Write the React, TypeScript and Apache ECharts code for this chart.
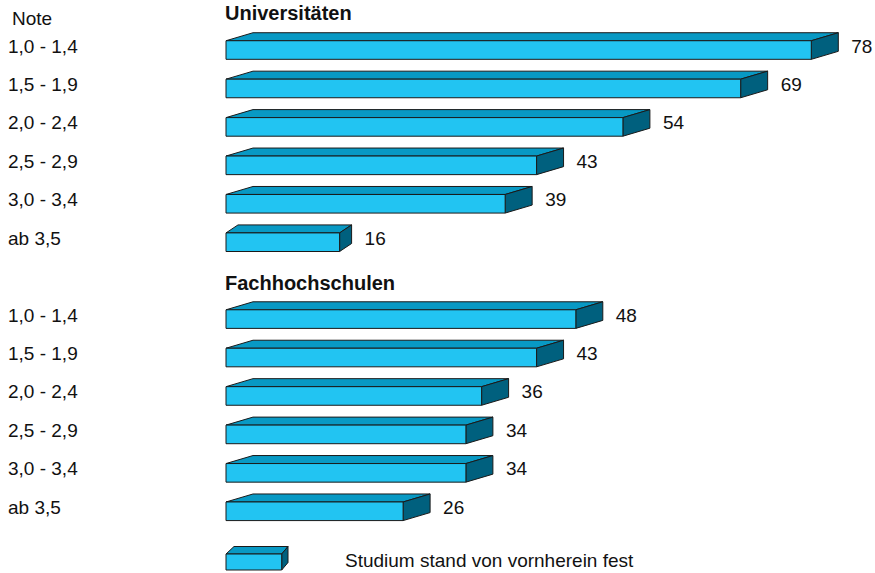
import React, { useEffect, useRef } from "react";
import * as echarts from "echarts";

const categories = ["1,0 - 1,4", "1,5 - 1,9", "2,0 - 2,4", "2,5 - 2,9", "3,0 - 3,4", "ab 3,5", "", "1,0 - 1,4", "1,5 - 1,9", "2,0 - 2,4", "2,5 - 2,9", "3,0 - 3,4", "ab 3,5"];
const universitaeten = [78, 69, 54, 43, 39, 16];
const fachhochschulen = [48, 43, 36, 34, 34, 26];
const headingUni = "Universitäten";
const headingFH = "Fachhochschulen";
const axisTitle = "Note";
const legendName = "Studium stand von vornherein fest";

const FRONT = "#22C4F2";
const TOP = "#0899C4";
const SIDE = "#00607E";
const EDGE = "#1a1a1a";
const FONT = "'Liberation Sans', Arial, sans-serif";

export default function App() {
  const ref = useRef<HTMLDivElement>(null);
  useEffect(() => {
    if (!ref.current) return;
    const chart = echarts.init(ref.current, null, { renderer: "svg" });
    const data: number[][] = [];
    universitaeten.forEach((v, i) => data.push([i, v]));
    fachhochschulen.forEach((v, i) => data.push([i + 7, v]));

    const dy = 8;
    const box = (x0: number, xe: number, ft: number, fb: number, d: number) => {
      const xf = xe - d;
      const ls = { stroke: EDGE, lineWidth: 1 };
      return [
        { type: "polygon", shape: { points: [[x0, ft], [x0 + d, ft - dy], [xe, ft - dy], [xf, ft]] }, style: { fill: TOP, ...ls } },
        { type: "polygon", shape: { points: [[xf, ft], [xe, ft - dy], [xe, fb - dy], [xf, fb]] }, style: { fill: SIDE, ...ls } },
        { type: "polygon", shape: { points: [[x0, ft], [xf, ft], [xf, fb], [x0, fb]] }, style: { fill: FRONT, ...ls } },
      ];
    };

    const renderItem = (params: any, api: any) => {
      const idx = api.value(0);
      const val = api.value(1);
      const s = api.coord([0, idx]);
      const e = api.coord([val, idx]);
      const c = s[1];
      const ft = c - 5.3;
      const fb = c + 13.3;
      const len = e[0] - s[0];
      const d = len < 150 ? 12 : 27;
      return {
        type: "group",
        children: [
          ...box(s[0], e[0], ft, fb, d),
          {
            type: "text",
            x: e[0] + 13,
            y: c,
            style: { text: String(val), fontSize: 19, fontFamily: FONT, fill: "#111", verticalAlign: "middle", align: "left" },
          },
        ],
      };
    };

    const textStyle = (t: string, x: number, y: number, bold = false) => ({
      type: "text",
      left: x,
      top: y,
      style: { text: t, fontSize: bold ? 20 : 19, fontWeight: bold ? "bold" : "normal", fontFamily: FONT, fill: "#111" },
    });

    chart.setOption({
      animation: false,
      backgroundColor: "#ffffff",
      grid: { left: 226, right: 21, top: 26.8, bottom: 46.5 },
      xAxis: { type: "value", min: 0, max: 80, show: false },
      yAxis: {
        type: "category",
        data: categories,
        inverse: true,
        axisLine: { show: false },
        axisTick: { show: false },
        splitLine: { show: false },
        axisLabel: { align: "left", margin: 218, fontSize: 19, fontFamily: FONT, color: "#111" },
      },
      series: [{ type: "custom", renderItem, data, encode: { x: 1, y: 0 } }],
      graphic: [
        textStyle(axisTitle, 12, 9),
        textStyle(headingUni, 225, 3, true),
        textStyle(headingFH, 225, 273, true),
        {
          type: "group",
          children: [
            { type: "polygon", shape: { points: [[226, 554], [234, 546.5], [288, 546.5], [281.7, 554]] }, style: { fill: TOP, stroke: EDGE, lineWidth: 1 } },
            { type: "polygon", shape: { points: [[281.7, 554], [288, 546.5], [288, 562.5], [281.7, 570]] }, style: { fill: SIDE, stroke: EDGE, lineWidth: 1 } },
            { type: "polygon", shape: { points: [[226, 554], [281.7, 554], [281.7, 570], [226, 570]] }, style: { fill: FRONT, stroke: EDGE, lineWidth: 1 } },
          ],
        },
        textStyle(legendName, 345, 551),
      ],
    });
    return () => chart.dispose();
  }, []);
  return <div ref={ref} style={{ position: "fixed", left: 0, top: 0, width: 875, height: 573 }} />;
}
